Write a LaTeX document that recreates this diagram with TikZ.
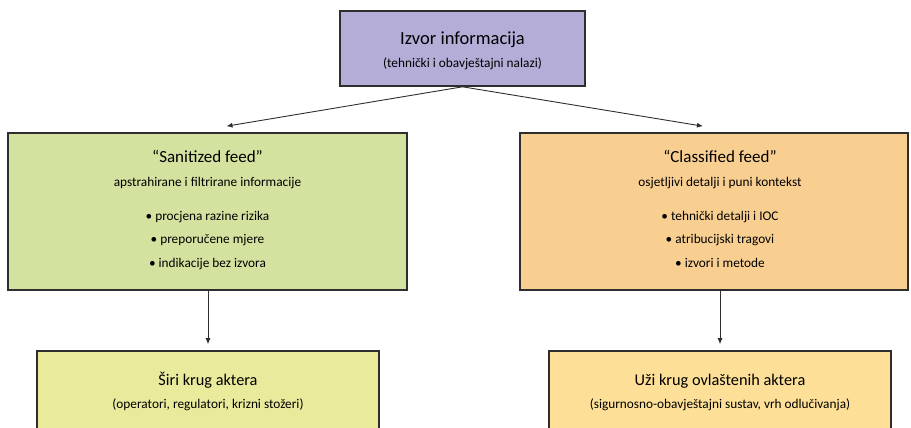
\documentclass[tikz,border=0pt]{standalone}
\usepackage{fontspec}
\setmainfont{Carlito}
\usepackage{tikz}
\usetikzlibrary{arrows.meta,calc,positioning}
\definecolor{boxline}{HTML}{2E2E2E}
\definecolor{izvorfill}{HTML}{B3ADD7}
\definecolor{sanitfill}{HTML}{D4E2A0}
\definecolor{classfill}{HTML}{F9CF91}
\definecolor{sirifill}{HTML}{E9EA9C}
\definecolor{uzifill}{HTML}{FDDF97}

\tikzset{
  box/.style={draw=boxline,line width=1.6pt,minimum width=#1,inner sep=0pt},
  txt/.style={inner sep=0pt,anchor=base,font=\fontsize{13.3}{16}\selectfont},
  head/.style={inner sep=0pt,anchor=base,font=\fontsize{17}{20}\selectfont},
  conn/.style={->,boxline,line width=0.9pt}
}

\begin{document}
\begin{tikzpicture}[x=1pt,y=-1pt,>={Latex[length=6pt,width=5pt]}]
\useasboundingbox (0,0) rectangle (911,428);
\clip (0,0) rectangle (911,428);
% kutije
\node[box=245pt,fill=izvorfill,minimum height=75pt] (izvor) at (462.5,48.5) {};
\node[box=399pt,fill=sanitfill,minimum height=157pt] (sanit) at (207.5,211.5) {};
\node[box=388pt,fill=classfill,minimum height=157pt] (class) at (714,211.5) {};
\node[box=342pt,fill=sirifill,minimum height=110pt] (siri) at (208,406) {};
\node[box=342pt,fill=uzifill,minimum height=110pt] (uzi) at (720,406) {};
% tekst
\node[head,font=\fontsize{18.5}{22}\selectfont] (izvorT) at (462.5,45) {Izvor informacija};
\node[txt] (izvorS) at (462.5,67) {(tehnički i obavještajni nalazi)};
\node[head] (sanitT) at (207.5,162.5) {“Sanitized feed”};
\node[txt] (sanitS) at (207.5,186) {apstrahirane i filtrirane informacije};
\node[txt] (sanitA) at (207.5,220) {• procjena razine rizika};
\node[txt] (sanitB) at (207.5,243) {• preporučene mjere};
\node[txt] (sanitC) at (207.5,267) {• indikacije bez izvora};
\node[head] (classT) at (720,162.5) {“Classified feed”};
\node[txt] (classS) at (720,186) {osjetljivi detalji i puni kontekst};
\node[txt] (classA) at (720,220) {• tehnički detalji i IOC};
\node[txt] (classB) at (720,243) {• atribucijski tragovi};
\node[txt] (classC) at (720,267) {• izvori i metode};
\node[head,font=\fontsize{16.3}{19}\selectfont] (siriT) at (208,385) {Širi krug aktera};
\node[txt] (siriS) at (208,408) {(operatori, regulatori, krizni stožeri)};
\node[head,font=\fontsize{16.3}{19}\selectfont] (uziT) at (720,385) {Uži krug ovlaštenih aktera};
\node[txt] (uziS) at (720,408) {(sigurnosno-obavještajni sustav, vrh odlučivanja)};
% strelice
\draw[conn] (izvor.south) -- ([xshift=19pt,yshift=6pt]sanit.north);
\draw[conn] (izvor.south) -- ([xshift=-11pt,yshift=6pt]class.north);
\draw[conn] (siri.north |- sanit.south) -- ([yshift=6pt]siri.north);
\draw[conn] (uzi.north |- class.south) -- ([yshift=6pt]uzi.north);
\end{tikzpicture}
\end{document}
